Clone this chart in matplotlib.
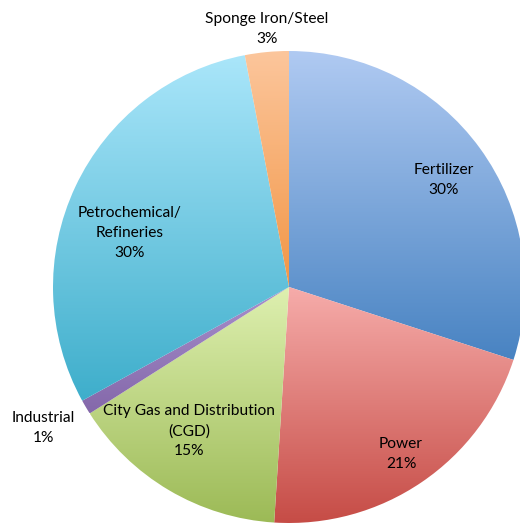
import numpy as np
import matplotlib
matplotlib.use('Agg')
import matplotlib.pyplot as plt
from matplotlib.colors import to_rgb

categories = ['Fertilizer', 'Power', 'City Gas and Distribution\n(CGD)', 'Industrial',
              'Petrochemical/\nRefineries', 'Sponge Iron/Steel']
shares = [30, 21, 15, 1, 30, 3]
top_colors = ['#b0caf2', '#f6acaa', '#def0b0', '#a890cc', '#aae6fa', '#fcc69c']
bottom_colors = ['#4883c2', '#c64c46', '#9cba56', '#8468aa', '#3eaecb', '#f29646']
# label anchor positions in pixels (x, y from top)
label_pos = [(444, 180), (401, 454), (189, 431), (43, 428), (130, 233), (267, 29)]

W, H = 520, 529
fig = plt.figure(figsize=(W / 100, H / 100), dpi=100)
ax = fig.add_axes([0, 0, 1, 1])
wedges, _ = ax.pie(shares, center=(289, H - 287), radius=236, startangle=90,
                   counterclock=False)

for w, c1, c2 in zip(wedges, top_colors, bottom_colors):
    w.set_facecolor('none')
    w.set_edgecolor('none')
    ext = w.get_path().get_extents()
    t = np.linspace(0, 1, 256)[:, None, None]
    grad = (1 - t) * np.array(to_rgb(c1))[None, None, :] + t * np.array(to_rgb(c2))[None, None, :]
    im = ax.imshow(grad, extent=[ext.x0, ext.x1, ext.y0, ext.y1], origin='upper',
                   aspect='auto', interpolation='bilinear', zorder=1)
    im.set_clip_path(w)

ax.set_xlim(0, W)
ax.set_ylim(0, H)
ax.set_aspect('equal')
ax.axis('off')

for cat, s, (x, y) in zip(categories, shares, label_pos):
    ax.text(x, H - y, f"{cat}\n{s}%", ha='center', va='center', fontsize=11.2,
            family='Lato', color='black', linespacing=1.55, zorder=5)

fig.savefig('out.png', dpi=100)
